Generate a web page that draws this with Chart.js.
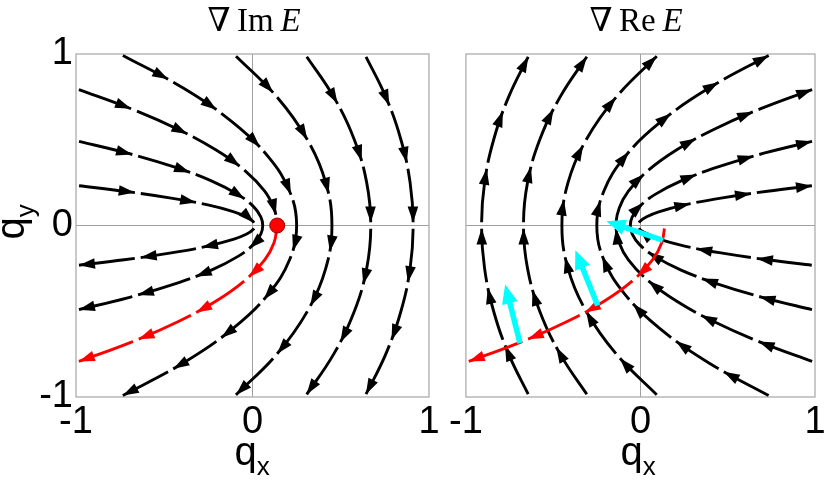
<!DOCTYPE html>
<html>
<head>
<meta charset="utf-8">
<script src="https://cdn.jsdelivr.net/npm/chart.js@4.4.1/dist/chart.umd.min.js"></script>
<style>
  html, body { margin: 0; padding: 0; background: #fff; }
  #fig { position: relative; width: 830px; height: 484px; overflow: hidden; }
  #fig canvas { position: absolute; top: 0; }
  #cIm { left: 0; }
  #cRe { left: 446px; }
  .ttl { position: absolute; top: 4px; width: 240px; text-align: center; line-height: 1;
         font-family: "Liberation Serif", "DejaVu Serif", "Times New Roman", serif;
         font-size: 33px; color: #000; white-space: nowrap; }
  .ax { position: absolute; width: 120px; height: 40px; text-align: center; line-height: 1;
        font-family: "Liberation Sans", Arial, Helvetica, sans-serif; font-size: 40px;
        color: #000; white-space: nowrap; }
  .ax span { font-size: 26px; position: relative; top: 10px; }
  #qy { left: -50px; top: 202px; transform: rotate(-90deg); }
</style>
</head>
<body>
<div id="fig">
  <canvas id="cIm" width="446" height="484"></canvas>
  <canvas id="cRe" width="384" height="484"></canvas>
  <div class="ttl" style="left:134px">&#8711;&#8201;Im&#8201;<i>E</i></div>
  <div class="ttl" style="left:516px">&#8711;&#8201;Re&#8201;<i>E</i></div>
  <div class="ax" style="left:192px;top:431px">q<span>x</span></div>
  <div class="ax" style="left:578px;top:431px">q<span>x</span></div>
  <div class="ax" id="qy">q<span>y</span></div>
</div>
<script>
(function () {
  'use strict';

  // ── Values (axis units) ──────────────────────────────────────────────
  var axisTicks = [-1, 0, 1];

  // grad Im E streamlines, listed in flow direction (upper half -> lower half)
  var imLine1 = [[-1.0, 0.234], [-0.727, 0.2], [-0.461, 0.16], [-0.253, 0.12], [-0.105, 0.08],
    [-0.033, 0.05], [0.002, 0.025], [0.0135, 0], [0.002, -0.025], [-0.033, -0.05],
    [-0.105, -0.08], [-0.253, -0.12], [-0.461, -0.16], [-0.727, -0.2], [-1.0, -0.234]];
  var imLine2 = [[-1.0, 0.495], [-0.702, 0.42], [-0.44, 0.34], [-0.233, 0.26], [-0.082, 0.18],
    [0.006, 0.11], [0.047, 0.05], [0.058, 0], [0.047, -0.05], [0.006, -0.11],
    [-0.082, -0.18], [-0.233, -0.26], [-0.44, -0.34], [-0.702, -0.42], [-1.0, -0.495]];
  var imLine3 = [[-1.0, 0.799], [-0.686, 0.68], [-0.42, 0.56], [-0.206, 0.44], [-0.043, 0.32],
    [0.069, 0.2], [0.122, 0.1], [0.136, 0.045]];
  var imLine4 = [[-0.75, 1], [-0.39, 0.8], [-0.11, 0.6], [0.09, 0.4], [0.21, 0.2], [0.25, 0],
    [0.21, -0.2], [0.09, -0.4], [-0.11, -0.6], [-0.39, -0.8], [-0.75, -1]];
  var imLine5 = [[-0.106, 1], [0.138, 0.75], [0.311, 0.5], [0.415, 0.25], [0.45, 0],
    [0.415, -0.25], [0.311, -0.5], [0.138, -0.75], [-0.106, -1]];
  var imLine6 = [[0.297, 1], [0.46, 0.75], [0.577, 0.5], [0.647, 0.25], [0.67, 0],
    [0.647, -0.25], [0.577, -0.5], [0.46, -0.75], [0.297, -1]];
  var imLine7 = [[0.635, 1], [0.755, 0.75], [0.841, 0.5], [0.893, 0.25], [0.91, 0],
    [0.893, -0.25], [0.841, -0.5], [0.755, -0.75], [0.635, -1]];

  // grad Re E streamlines (lower half -> upper half)
  var reLine1 = [[1.0, -0.234], [0.727, -0.2], [0.461, -0.16], [0.253, -0.12], [0.105, -0.08],
    [0.033, -0.05], [-0.002, -0.025], [-0.0135, 0], [-0.002, 0.025], [0.033, 0.05],
    [0.105, 0.08], [0.253, 0.12], [0.461, 0.16], [0.727, 0.2], [1.0, 0.234]];
  var reLine2 = [[1.0, -0.495], [0.702, -0.42], [0.44, -0.34], [0.233, -0.26], [0.082, -0.18],
    [-0.006, -0.11], [-0.047, -0.05], [-0.058, 0], [-0.047, 0.05], [-0.006, 0.11],
    [0.082, 0.18], [0.233, 0.26], [0.44, 0.34], [0.702, 0.42], [1.0, 0.495]];
  var reLine3 = [[1.0, -0.799], [0.686, -0.68], [0.42, -0.56], [0.206, -0.44], [0.043, -0.32],
    [-0.069, -0.2], [-0.122, -0.1], [-0.14, 0], [-0.122, 0.1], [-0.069, 0.2],
    [0.043, 0.32], [0.206, 0.44], [0.42, 0.56], [0.686, 0.68], [1.0, 0.799]];
  var reLine4 = [[0.75, -1], [0.39, -0.8], [0.11, -0.6], [-0.09, -0.4], [-0.21, -0.2], [-0.25, 0],
    [-0.21, 0.2], [-0.09, 0.4], [0.11, 0.6], [0.39, 0.8], [0.75, 1]];
  var reLine5 = [[0.106, -1], [-0.138, -0.75], [-0.311, -0.5], [-0.415, -0.25], [-0.45, 0],
    [-0.415, 0.25], [-0.311, 0.5], [-0.138, 0.75], [0.106, 1]];
  var reLine6 = [[-0.297, -1], [-0.46, -0.75], [-0.577, -0.5], [-0.647, -0.25], [-0.67, 0],
    [-0.647, 0.25], [-0.577, 0.5], [-0.46, 0.75], [-0.297, 1]];
  var reLine7 = [[-0.635, -1], [-0.755, -0.75], [-0.841, -0.5], [-0.893, -0.25], [-0.91, 0],
    [-0.893, 0.25], [-0.841, 0.5], [-0.755, 0.75], [-0.635, 1]];

  // red path (same curve in both panels) and the red start point
  var redPath = [[0.14, 0], [0.122, -0.1], [0.069, -0.2], [-0.043, -0.32], [-0.206, -0.44],
    [-0.42, -0.56], [-0.686, -0.68], [-1.0, -0.799]];
  var redDot = [0.14, 0];

  // cyan gradient arrows on the right panel
  var cyanTail = [[0.128, -0.086], [-0.245, -0.466], [-0.69, -0.686]];
  var cyanTip = [[-0.195, 0.025], [-0.373, -0.144], [-0.775, -0.344]];

  var imStreams = [imLine1, imLine2, imLine3, imLine4, imLine5, imLine6, imLine7];
  var reStreams = [reLine1, reLine2, reLine3, reLine4, reLine5, reLine6, reLine7];

  // ── Dashed streamlines with an arrowhead at the end of each dash ─────
  var GAP = 6, SEG = 60;

  function sampleLine(meta) {
    var pts = meta.data;
    var out = [{ x: pts[0].x, y: pts[0].y, d: 0 }];
    for (var i = 0; i < pts.length - 1; i++) {
      var a = pts[i], b = pts[i + 1];
      var c1x = a.cp2x !== undefined ? a.cp2x : a.x, c1y = a.cp2y !== undefined ? a.cp2y : a.y;
      var c2x = b.cp1x !== undefined ? b.cp1x : b.x, c2y = b.cp1y !== undefined ? b.cp1y : b.y;
      for (var k = 1; k <= 24; k++) {
        var t = k / 24, u = 1 - t;
        var x = u * u * u * a.x + 3 * u * u * t * c1x + 3 * u * t * t * c2x + t * t * t * b.x;
        var y = u * u * u * a.y + 3 * u * u * t * c1y + 3 * u * t * t * c2y + t * t * t * b.y;
        var p = out[out.length - 1];
        out.push({ x: x, y: y, d: p.d + Math.hypot(x - p.x, y - p.y) });
      }
    }
    return out;
  }

  function locate(path, s) {
    for (var i = 1; i < path.length; i++) {
      if (path[i].d >= s || i === path.length - 1) {
        var a = path[i - 1], b = path[i];
        var f = (s - a.d) / ((b.d - a.d) || 1);
        f = Math.min(1, Math.max(0, f));
        return { x: a.x + (b.x - a.x) * f, y: a.y + (b.y - a.y) * f };
      }
    }
    return path[0];
  }

  var arrowPlugin = {
    id: 'streamArrows',
    beforeDatasetDraw: function (chart, args) {
      var ds = chart.data.datasets[args.index];
      if (!ds.arrow) return;
      var meta = args.meta;
      meta.dataset.updateControlPoints(chart.chartArea, meta.iScale.axis);
      var path = sampleLine(meta);
      var L = path[path.length - 1].d;
      var tips = [], dash, offset;
      if (ds.arrow.single) {
        tips.push(L);
        dash = [Math.max(1, L - ds.arrow.len * 0.6), L + 50];
        offset = 0;
      } else {
        var n = Math.max(1, Math.round(L / SEG)), s = L / n;
        for (var k = 1; k <= n; k++) tips.push(k * s - GAP / 2);
        dash = [s - GAP, GAP];
        offset = s - GAP / 2;
      }
      meta._arrowPath = path;
      meta._arrowTips = tips;
      meta.dataset.options = Object.assign({}, meta.dataset.options,
        { borderDash: dash, borderDashOffset: offset });
    },
    afterDatasetDraw: function (chart, args) {
      var ds = chart.data.datasets[args.index];
      var meta = args.meta;
      if (!ds.arrow || !meta._arrowPath) return;
      var ctx = chart.ctx, area = chart.chartArea, path = meta._arrowPath;
      var len = ds.arrow.len, half = ds.arrow.half;
      ctx.save();
      ctx.beginPath();
      ctx.rect(area.left, area.top, area.right - area.left, area.bottom - area.top);
      ctx.clip();
      ctx.fillStyle = ds.borderColor;
      meta._arrowTips.forEach(function (s) {
        var p = locate(path, s), q = locate(path, s - 6);
        var dx = p.x - q.x, dy = p.y - q.y, m = Math.hypot(dx, dy) || 1;
        var ux = dx / m, uy = dy / m;
        var bx = p.x - ux * len, by = p.y - uy * len;
        ctx.beginPath();
        ctx.moveTo(p.x, p.y);
        ctx.lineTo(bx - uy * half, by + ux * half);
        ctx.lineTo(bx + uy * half, by - ux * half);
        ctx.closePath();
        ctx.fill();
      });
      ctx.restore();
    }
  };

  // light grey frame around each plot box
  var framePlugin = {
    id: 'frame',
    beforeDatasetsDraw: function (chart) {
      var a = chart.chartArea, ctx = chart.ctx;
      ctx.save();
      ctx.strokeStyle = '#a6a6a6';
      ctx.lineWidth = 1.2;
      ctx.strokeRect(a.left, a.top, a.right - a.left, a.bottom - a.top);
      ctx.restore();
    }
  };

  // ── Helpers ──────────────────────────────────────────────────────────
  function toXY(pts) {
    return pts.map(function (p) { return { x: p[0], y: p[1] }; });
  }

  function lineSet(pts, color, width, order, arrow, tension) {
    return {
      data: toXY(pts),
      showLine: true,
      borderColor: color,
      backgroundColor: color,
      borderWidth: width,
      pointRadius: 0,
      pointHoverRadius: 0,
      tension: tension,
      clip: 0,
      order: order,
      arrow: arrow
    };
  }

  var blackHead = { len: 16, half: 5.3 };
  var cyanHead = { len: 19, half: 8, single: true };

  var tickFont = { family: '"Liberation Sans", Arial, Helvetica, sans-serif', size: 38 };

  function zeroGrid(c) {
    return c.tick && c.tick.value === 0 ? '#a0a0a0' : 'rgba(0,0,0,0)';
  }

  function axis(size, showTicks) {
    return {
      type: 'linear',
      min: -1,
      max: 1,
      afterBuildTicks: function (s) {
        s.ticks = axisTicks.map(function (v) { return { value: v }; });
      },
      afterFit: function (s) {
        if (s.isHorizontal()) s.height = size; else s.width = size;
      },
      border: { display: false },
      grid: { color: zeroGrid, lineWidth: 1, drawTicks: false },
      ticks: {
        display: showTicks,
        autoSkip: false,
        maxRotation: 0,
        padding: 3,
        color: '#000',
        font: tickFont,
        callback: function (v) { return String(v); }
      }
    };
  }

  function options(yWidth, showY, padRight) {
    return {
      responsive: false,
      animation: false,
      devicePixelRatio: 1,
      events: [],
      layout: { padding: { top: 54, right: padRight, bottom: 0, left: 0 } },
      plugins: { legend: { display: false }, tooltip: { enabled: false } },
      scales: { x: axis(87, true), y: axis(yWidth, showY) }
    };
  }

  // ── Left panel: grad Im E ────────────────────────────────────────────
  var imSets = imStreams.map(function (pts) {
    return lineSet(pts, '#000000', 2.9, 3, blackHead, 0.4);
  });
  imSets.push(lineSet(redPath, '#ff0000', 2.9, 2, blackHead, 0.4));
  imSets.push({
    data: toXY([redDot]),
    showLine: false,
    pointRadius: 7.5,
    pointHoverRadius: 7.5,
    backgroundColor: '#ff0000',
    borderColor: '#a00000',
    borderWidth: 1,
    clip: false,
    order: 0
  });

  new Chart(document.getElementById('cIm'), {
    type: 'scatter',
    data: { datasets: imSets },
    options: options(76, true, 17),
    plugins: [framePlugin, arrowPlugin]
  });

  // ── Right panel: grad Re E ───────────────────────────────────────────
  var reSets = reStreams.map(function (pts) {
    return lineSet(pts, '#000000', 2.9, 3, blackHead, 0.4);
  });
  reSets.push(lineSet(redPath, '#ff0000', 2.9, 2, blackHead, 0.4));
  cyanTail.forEach(function (t, i) {
    reSets.push(lineSet([t, cyanTip[i]], '#00ffff', 5.5, 1, cyanHead, 0));
  });

  new Chart(document.getElementById('cRe'), {
    type: 'scatter',
    data: { datasets: reSets },
    options: options(16, false, 15),
    plugins: [framePlugin, arrowPlugin]
  });
})();
</script>
</body>
</html>
